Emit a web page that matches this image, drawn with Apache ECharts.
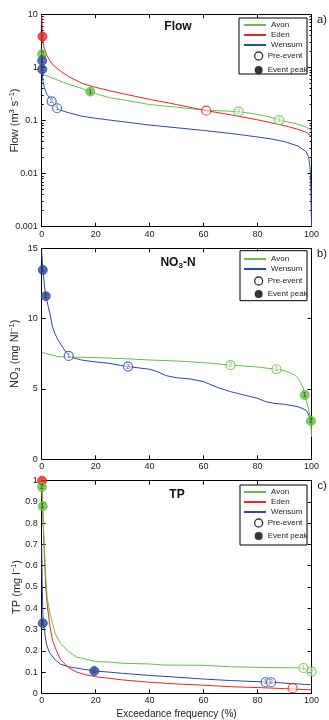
<!DOCTYPE html>
<html><head><meta charset="utf-8">
<script src="https://cdn.jsdelivr.net/npm/echarts@6/dist/echarts.min.js"></script>
<style>html,body{margin:0;padding:0;background:#fff}#c{width:329px;height:720px}</style>
</head><body><div id="c"></div>
<script>
// ---------- DATA ----------
const xTicks = [0, 20, 40, 60, 80, 100];
// Panel a: Flow (m3 s-1)
const flowAvonX = [0,1,3,5,8,10,15,18,20,25,30,40,50,60,65,73,80,85,88,92,95,98,100];
const flowAvonY = [0.75,0.72,0.66,0.6,0.52,0.48,0.4,0.35,0.32,0.27,0.245,0.2,0.178,0.158,0.153,0.147,0.13,0.115,0.102,0.092,0.085,0.075,0.065];
const flowEdenX = [0,0.3,0.6,1,1.5,2,3,4,5,7,10,15,20,30,40,50,61,70,80,90,95,98,100];
const flowEdenY = [9.5,3.8,2.8,2.3,1.9,1.65,1.35,1.15,1.02,0.85,0.67,0.5,0.42,0.32,0.25,0.2,0.153,0.128,0.103,0.08,0.068,0.06,0.05];
const flowWensumX = [0,0.2,0.5,1,1.5,2,3,3.7,5,5.7,8,10,15,20,30,40,50,60,70,80,85,90,95,98,99,99.5,99.8,100];
const flowWensumY = [0.9,0.75,0.55,0.42,0.35,0.31,0.26,0.23,0.19,0.17,0.15,0.14,0.12,0.11,0.095,0.082,0.073,0.065,0.057,0.049,0.045,0.04,0.033,0.026,0.02,0.012,0.005,0.001];
// markers: [x, y, label, filled(1)/open(0)]
const flowAvonMarks = [[0.2,1.79,'2',1],[18,0.35,'1',1],[73,0.147,'2',0],[88,0.102,'1',0]];
const flowEdenMarks = [[0.3,3.8,'',1],[61,0.153,'',0]];
const flowWensumMarks = [[0.2,1.34,'1',1],[0.2,0.92,'2',1],[3.7,0.23,'2',0],[5.7,0.17,'1',0]];
// Panel b: NO3-N (mg N l-1)
const no3AvonX = [0,3,6,10,20,30,40,50,60,70,80,87,90,92,94,95,96,97,97.5,98,99,99.8,100];
const no3AvonY = [7.6,7.45,7.3,7.27,7.23,7.16,7.06,6.99,6.87,6.7,6.56,6.4,6.3,6.15,5.95,5.76,5.45,5.05,4.57,4.2,3.5,2.72,1.6];
const no3WensumX = [0,0.4,0.7,1,1.5,2,3,4,5,6,7,8,10,12,15,20,25,30,32,35,40,43,46,50,55,60,63,66,70,75,80,83,86,90,95,98,99,100];
const no3WensumY = [14.8,13.46,13,12.4,11.6,11.2,10.4,9.4,8.9,8.5,8.2,7.9,7.35,7.2,7.05,6.92,6.82,6.65,6.59,6.52,6.4,6.23,5.95,5.8,5.71,5.52,5.28,5.05,4.81,4.57,4.34,4.1,3.98,3.91,3.74,3.5,3.15,2.6];
const no3AvonMarks = [[70,6.7,'2',0],[87,6.4,'1',0],[97.5,4.57,'1',1],[99.8,2.72,'2',1]];
const no3WensumMarks = [[0.4,13.46,'1',1],[1.5,11.6,'2',1],[10,7.35,'1',0],[32,6.59,'2',0]];
// Panel c: TP (mg l-1)
const tpAvonX = [0,0.3,0.6,1,1.5,2,3,4,5,7,10,13,15,20,25,30,40,45,60,70,80,97,100];
const tpAvonY = [0.97,0.9,0.8,0.68,0.55,0.45,0.38,0.33,0.28,0.235,0.196,0.17,0.165,0.149,0.147,0.141,0.138,0.133,0.132,0.125,0.122,0.119,0.102];
const tpEdenX = [0,0.3,0.6,1,1.5,2,3,4,5,6,7,8,10,13,16,20,30,40,50,60,70,80,90,100];
const tpEdenY = [1.0,0.9,0.78,0.65,0.5,0.42,0.32,0.25,0.215,0.185,0.16,0.145,0.12,0.1,0.088,0.078,0.063,0.052,0.044,0.038,0.031,0.027,0.022,0.016];
const tpWensumX = [0,0.2,0.5,1,1.5,2,3,5,7,10,15,20,30,40,50,60,70,83,85,90,100];
const tpWensumY = [0.7,0.5,0.35,0.3,0.25,0.22,0.19,0.157,0.137,0.125,0.114,0.105,0.094,0.084,0.076,0.067,0.06,0.053,0.052,0.048,0.04];
const tpAvonMarks = [[0.1,0.97,'2',1],[0.4,0.88,'1',1],[97,0.119,'1',0],[100,0.102,'2',0]];
const tpEdenMarks = [[0.1,1.0,'',1],[93,0.024,'',0]];
const tpWensumMarks = [[0.4,0.33,'1',1],[19.5,0.105,'2',1],[83,0.052,'1',0],[85,0.052,'2',0]];

// ---------- STYLE ----------
const GREEN = '#62c241', RED = '#ec2424', BLUE = '#2b4aa8';
const FONT = 'Liberation Sans, Arial, sans-serif';
const grids = [
  {left: 41.7, right: 17.5, top: 14.3, height: 212.4, outerBoundsMode: 'none', containLabel: false},
  {left: 41.7, right: 17.5, top: 248.3, height: 211, outerBoundsMode: 'none', containLabel: false},
  {left: 41.7, right: 17.5, top: 480.7, height: 212.6, outerBoundsMode: 'none', containLabel: false}
];

const xAxes = [], yAxes = [];
const yDefs = [
  {type: 'log', min: 0.001, max: 10, logBase: 10, name: 'Flow (m{sup|3} s{sup|−1})', gap: 19},
  {type: 'value', min: 0, max: 15, interval: 5, name: 'NO{sub|3} (mg Nl{sup|−1})', gap: 19},
  {type: 'value', min: 0, max: 1, interval: 0.1, name: 'TP (mg l{sup|−1})', gap: 17}
];
const tickStyle = {show: true, inside: true, length: 4, lineStyle: {color: '#000', width: 1}};
grids.forEach((g, i) => {
  xAxes.push({gridIndex: i, type: 'value', min: 0, max: 100, interval: 20, position: 'bottom',
    axisLine: {onZero: false, lineStyle: {color: '#000', width: 1}}, axisTick: tickStyle,
    axisLabel: {fontSize: 9, color: '#222', margin: 3, fontFamily: FONT}, splitLine: {show: false},
    name: i === 2 ? 'Exceedance frequency (%)' : '', nameLocation: 'middle', nameGap: 16, nameMoveOverlap: false,
    nameTextStyle: {fontSize: 10, color: '#222', fontFamily: FONT}});
  xAxes.push({gridIndex: i, type: 'value', min: 0, max: 100, interval: 20, position: 'top',
    axisLine: {onZero: false, lineStyle: {color: '#000', width: 1}}, axisTick: tickStyle,
    axisLabel: {show: false}, splitLine: {show: false}});
  const d = yDefs[i];
  const base = {gridIndex: i, type: d.type, min: d.min, max: d.max, splitLine: {show: false},
    axisLine: {onZero: false, show: true, lineStyle: {color: '#000', width: 1}}, axisTick: tickStyle};
  if (d.type === 'log') { base.logBase = 10; base.minorTick = {show: true, splitNumber: 9, length: 2, lineStyle: {color: '#000'}}; }
  else { base.interval = d.interval; }
  yAxes.push(Object.assign({}, base, {position: 'left',
    axisLabel: {fontSize: 9, color: '#222', margin: 4, fontFamily: FONT,
      formatter: v => String(+v.toFixed(3))},
    name: d.name, nameLocation: 'middle', nameGap: d.gap, nameMoveOverlap: false,
    nameTextStyle: {fontSize: 11, color: '#222', fontFamily: FONT,
      rich: {sup: {fontSize: 7.5, color: '#222', padding: [0, 0, 7, 0], fontFamily: FONT},
             sub: {fontSize: 7.5, color: '#222', padding: [5, 0, 0, 0], fontFamily: FONT}}}}));
  yAxes.push(Object.assign({}, base, {position: 'right', axisLabel: {show: false}}));
});

function lineSeries(name, xs, ys, color, gi) {
  return {type: 'line', name, xAxisIndex: gi * 2, yAxisIndex: gi * 2,
    data: xs.map((x, k) => [x, ys[k]]), showSymbol: false, symbol: 'none',
    lineStyle: {color, width: 1}, itemStyle: {color}, animation: false, z: 2, clip: true};
}
function markSeries(marks, color, gi) {
  return {type: 'scatter', name: 'mk', xAxisIndex: gi * 2, yAxisIndex: gi * 2, animation: false, z: 5,
    symbolSize: 9,
    data: marks.map(m => ({value: [m[0], m[1]],
      itemStyle: m[3] ? {color, borderColor: color, borderWidth: 1} : {color: 'rgba(255,255,255,0.7)', borderColor: color, borderWidth: 1.2},
      label: {show: m[2] !== '', formatter: m[2], position: 'inside', fontSize: 7, fontFamily: FONT,
        color: m[3] ? '#222' : color}}))};
}

const series = [
  lineSeries('Avon', flowAvonX, flowAvonY, GREEN, 0),
  lineSeries('Eden', flowEdenX, flowEdenY, RED, 0),
  lineSeries('Wensum', flowWensumX, flowWensumY, BLUE, 0),
  markSeries(flowEdenMarks, RED, 0),
  markSeries(flowAvonMarks, GREEN, 0),
  markSeries(flowWensumMarks, BLUE, 0),
  lineSeries('Avon', no3AvonX, no3AvonY, GREEN, 1),
  lineSeries('Wensum', no3WensumX, no3WensumY, BLUE, 1),
  markSeries(no3AvonMarks, GREEN, 1),
  markSeries(no3WensumMarks, BLUE, 1),
  lineSeries('Eden', tpEdenX, tpEdenY, RED, 2),
  lineSeries('Avon', tpAvonX, tpAvonY, GREEN, 2),
  lineSeries('Wensum', tpWensumX, tpWensumY, BLUE, 2),
  markSeries(tpEdenMarks, RED, 2),
  markSeries(tpAvonMarks, GREEN, 2),
  markSeries(tpWensumMarks, BLUE, 2),
  {type: 'scatter', name: 'Pre-event', xAxisIndex: 0, yAxisIndex: 0, data: [], itemStyle: {color: '#fff', borderColor: '#000'}},
  {type: 'scatter', name: 'Event peak', xAxisIndex: 0, yAxisIndex: 0, data: [], itemStyle: {color: '#000'}}
];

const legTxt = {fontSize: 8, color: '#222', lineHeight: 10, fontFamily: FONT};
function lineLegend(top, names) {
  return {orient: 'vertical', left: 244, top, padding: 0, itemGap: 0, itemWidth: 22, itemHeight: 2, z: 20,
    icon: 'rect', textStyle: legTxt, selectedMode: false, data: names};
}
function markLegend(top, gap) {
  return {orient: 'vertical', left: 254, top, padding: 0, itemGap: gap, itemWidth: 8, itemHeight: 8, z: 20,
    textStyle: legTxt, selectedMode: false,
    data: [{name: 'Pre-event', icon: 'circle', itemStyle: {color: '#fff', borderColor: '#000', borderWidth: 1.3}},
           {name: 'Event peak', icon: 'circle', itemStyle: {color: '#000', borderWidth: 0}}]};
}
const legend = [
  lineLegend(20, ['Avon', 'Eden', 'Wensum']), markLegend(51, 4),
  lineLegend(254, ['Avon', 'Wensum']), markLegend(276, 3),
  lineLegend(487, ['Avon', 'Eden', 'Wensum']), markLegend(518, 3)
];

function box(x1, y1, x2, y2) {
  return {type: 'rect', shape: {x: x1, y: y1, width: x2 - x1, height: y2 - y1},
    style: {fill: '#fff', stroke: '#000', lineWidth: 1}, z: 3, silent: true};
}
function txt(x, y, text, size, weight, rich) {
  return {type: 'text', x, y, z: 20, silent: true,
    style: {text, fontSize: size, fontWeight: weight, fill: '#111', fontFamily: FONT,
      align: 'center', verticalAlign: 'middle', rich: rich || {}}};
}
const subRich = {sub: {fontSize: 8, fontWeight: 'bold', fill: '#111', padding: [6, 0, 0, 0], fontFamily: FONT}};
const graphic = [
  box(239, 18, 307, 74), box(240, 250.7, 307, 300.7), box(240, 485, 307, 545),
  txt(178, 27, 'Flow', 12, 'bold'), txt(178, 263, 'NO{sub|3}-N', 12, 'bold', subRich), txt(177, 495, 'TP', 12, 'bold'),
  txt(322, 20, 'a)', 11, 'normal'), txt(322, 254, 'b)', 11, 'normal'), txt(322, 486, 'c)', 11, 'normal')
];

const chart = echarts.init(document.getElementById('c'), null, {renderer: 'canvas'});
chart.setOption({animation: false, backgroundColor: '#fff', textStyle: {fontFamily: FONT},
  grid: grids, xAxis: xAxes, yAxis: yAxes, series, legend, graphic});
</script></body></html>
